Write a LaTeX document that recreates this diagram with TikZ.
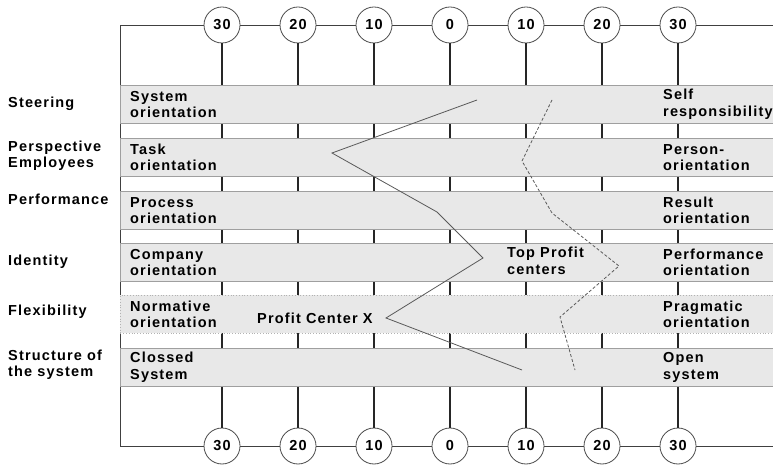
\documentclass[tikz,border=0pt]{standalone}
\usepackage{fontspec}
\newfontfamily\chartfont{Liberation Sans}[UprightFont={* Bold}, LetterSpace=8]
\usepackage{tikz}
\usetikzlibrary{positioning}

\tikzset{
  frame/.style={draw=black!75, line width=0.9bp},
  tick/.style={draw=black!85, line width=1.8bp},
  scalecircle/.style={circle, draw=black!70, fill=white, line width=0.8bp,
    minimum size=36bp, inner sep=0pt, font=\chartfont\fontsize{14.5bp}{16bp}\selectfont},
  band/.style={draw=gray!75, fill=gray!18, line width=0.8bp, anchor=north west,
    minimum width=655bp, minimum height=38bp, inner sep=0pt},
  bandtext/.style={anchor=west, align=left, inner sep=0pt,
    font=\chartfont\fontsize{14.5bp}{16.5bp}\selectfont},
  dimlabel/.style={bandtext},
  profile/.style={draw=black!65, line width=0.8bp},
}

\begin{document}
\begin{tikzpicture}[x=1bp,y=-1bp]
  \useasboundingbox (0,0) rectangle (773,465);
%
  \draw [frame] (775,25) -- (120,25) -- (120,446) -- (775,446) ;
%
  \foreach \v [count=\i] in {30,20,10,0,10,20,30} {
    \node [scalecircle] (t\i) at (146+76*\i,25)  {\v} ;
    \node [scalecircle] (b\i) at (146+76*\i,446) {\v} ;
    \draw [tick] (t\i) -- (b\i) ;
  }
%
  \node [band] (band1) at (120,85)  {} ;
  \node [band] (band2) at (120,138) {} ;
  \node [band] (band3) at (120,191) {} ;
  \node [band] (band4) at (120,243) {} ;
  \node [band, draw=gray!60, dotted] (band5) at (120,295) {} ;
  \node [band] (band6) at (120,348) {} ;
%
  \node [bandtext, right=10bp of band1.west] (sys)  {System\\orientation} ;
  \node [bandtext, right=10bp of band2.west] (task) {Task\\orientation} ;
  \node [bandtext, right=10bp of band3.west] (proc) {Process\\orientation} ;
  \node [bandtext, right=10bp of band4.west] (comp) {Company\\orientation} ;
  \node [bandtext, right=10bp of band5.west] (norm) {Normative\\orientation} ;
  \node [bandtext, right=10bp of band6.west] (clos) {Clossed\\System} ;
%
  \node [bandtext, right=543bp of band1.west] (self) {Self\\responsibility} ;
  \node [bandtext, right=543bp of band2.west] (pers) {Person-\\orientation} ;
  \node [bandtext, right=543bp of band3.west] (resu) {Result\\orientation} ;
  \node [bandtext, right=543bp of band4.west] (perf) {Performance\\orientation} ;
  \node [bandtext, right=543bp of band5.west] (prag) {Pragmatic\\orientation} ;
  \node [bandtext, right=543bp of band6.west] (open) {Open\\system} ;
%
  \node [dimlabel] (steer) at (8,104) {Steering} ;
  \node [dimlabel] (empl)  at (8,156) {Perspective\\Employees} ;
  \node [dimlabel] (perfo) at (8,199) {Performance} ;
  \node [dimlabel] (ident) at (8,262) {Identity} ;
  \node [dimlabel] (flex)  at (8,312) {Flexibility} ;
  \node [dimlabel] (struc) at (8,365) {Structure of\\the system} ;
%
  \draw [profile] (477,100) -- (332,153) -- (437,212) -- (483,258)
                  -- (386,318) -- (522,370) ;
  \draw [profile, dash pattern=on 3bp off 2bp] (552,100) -- (522,161)
                  -- (552,213) -- (619,266) -- (560,317) -- (575,370) ;
%
  \node [bandtext] (pcx) at (257,318) {Profit Center X} ;
  \node [bandtext] (top) at (507,261) {Top Profit\\centers} ;
%
\end{tikzpicture}
\end{document}
